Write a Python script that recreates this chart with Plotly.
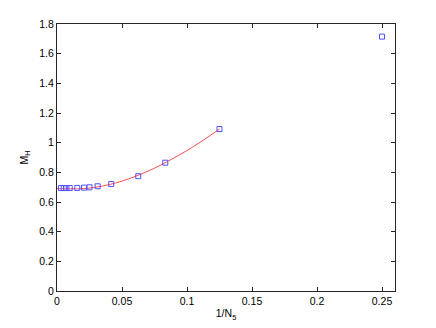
import plotly.graph_objects as go

# Data
inv_n = [0.0031, 0.0052, 0.0072, 0.0098, 0.0156, 0.0208, 0.025, 0.03125,
         0.0417, 0.0625, 0.0833, 0.125, 0.25]
m_h = [0.694, 0.694, 0.694, 0.694, 0.695, 0.697, 0.699, 0.706,
       0.721, 0.774, 0.865, 1.092, 1.715]

fit_x = [0.0, 0.01, 0.02, 0.03, 0.04, 0.05, 0.06, 0.07, 0.08, 0.09, 0.10, 0.11, 0.125]
fit_y = [0.690, 0.689, 0.690, 0.700, 0.717, 0.741, 0.772, 0.808, 0.850, 0.897, 0.947, 1.002, 1.092]

x_ticks = [0, 0.05, 0.1, 0.15, 0.2, 0.25]
x_tick_text = ["0", "0.05", "0.1", "0.15", "0.2", "0.25"]
y_ticks = [0, 0.2, 0.4, 0.6, 0.8, 1.0, 1.2, 1.4, 1.6, 1.8]
y_tick_text = ["0", "0.2", "0.4", "0.6", "0.8", "1", "1.2", "1.4", "1.6", "1.8"]

fig = go.Figure()
fig.add_trace(go.Scatter(x=fit_x, y=fit_y, mode="lines", line_shape="spline",
                         line=dict(color="#ff5050", width=1), showlegend=False))
fig.add_trace(go.Scatter(x=inv_n, y=m_h, mode="markers",
                         marker=dict(symbol="square-open", size=5,
                                     color="#5050ff", line=dict(width=1)),
                         showlegend=False))

axis_common = dict(showline=True, linecolor="#262626", linewidth=1, mirror="ticks",
                   ticks="inside", ticklen=4, tickcolor="#262626", showgrid=False,
                   zeroline=False, automargin=False,
                   tickfont=dict(size=10.5, color="#000"))

fig.update_layout(
    width=428, height=320,
    margin=dict(l=49, r=41, t=16, b=37),
    paper_bgcolor="white", plot_bgcolor="white",
    font=dict(family="Liberation Sans, Arial, sans-serif", size=10, color="#000"),
    xaxis=dict(range=[0, 0.26], tickvals=x_ticks, ticktext=x_tick_text,
               title=dict(text="1/N<sub>5</sub>", standoff=4, font=dict(size=10.5)),
               **axis_common),
    yaxis=dict(range=[0, 1.8], tickvals=y_ticks, ticktext=y_tick_text,
               title=dict(text="M<sub>H</sub>", standoff=8, font=dict(size=10.5)),
               **axis_common),
)

fig.write_html("out.html")
